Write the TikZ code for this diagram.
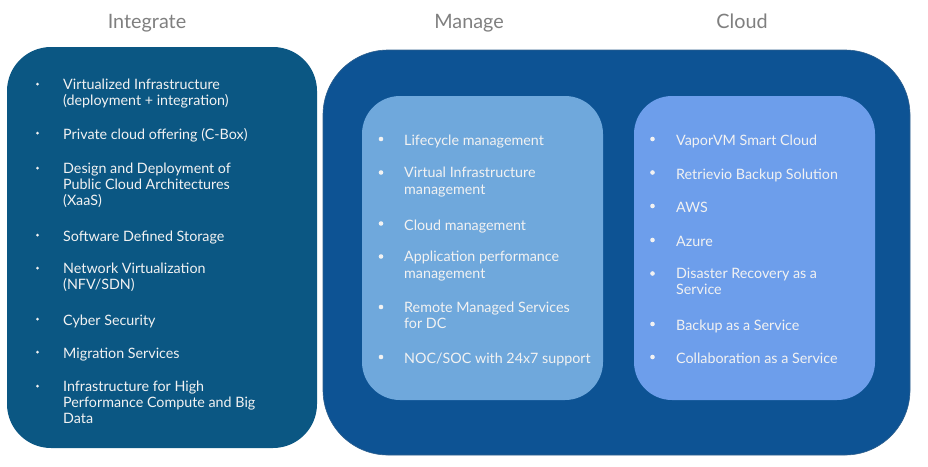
\documentclass[tikz,border=0pt]{standalone}
\usepackage{fontspec}
\setmainfont{Lato}
\definecolor{leftbox}{HTML}{0B5783}
\definecolor{bigbox}{HTML}{0D5394}
\definecolor{managebox}{HTML}{6FA8DC}
\definecolor{cloudbox}{HTML}{6D9EEB}
\definecolor{titlegray}{HTML}{7F7F7F}
\definecolor{itemtext}{HTML}{F2F2F2}
\newcommand{\itemstrut}{\rule{0pt}{12pt}}
\tikzset{
  title/.style={text=titlegray, font=\fontsize{19.8}{23}\selectfont, anchor=base},
  item/.style={text=itemtext, font=\fontsize{14.3}{16.3}\selectfont, anchor=north west, align=left, inner sep=0pt, yshift=10.5pt, execute at begin node=\itemstrut},
}
\begin{document}
\begin{tikzpicture}[x=1pt,y=-1pt]
\useasboundingbox (0,0) rectangle (928,466);
% titles
\node[title] (tInt) at (147,28.5) {Integrate};
\node[title] (tMan) at (469,28.5) {Manage};
\node[title] (tCld) at (742,28.5) {Cloud};
% boxes
\fill[leftbox, rounded corners=44pt] (7,47) rectangle (317,448);
\filldraw[fill=bigbox, draw=bigbox!70!gray, line width=0.6pt, rounded corners=65pt] (323,50) rectangle (910,455);
\fill[managebox, rounded corners=38pt] (362,96) rectangle (603,400);
\fill[cloudbox, rounded corners=38pt] (634,96) rectangle (875,400);
% left items
\foreach \y in {84,133,168,235,268,319,352,386} \fill[itemtext] (37.5,\y) circle (1.5);
\node[item] (i1) at (63,89) {Virtualized Infrastructure\\(deployment + integration)};
\node[item] (i2) at (63,138) {Private cloud offering (C-Box)};
\node[item] (i3) at (63,173) {Design and Deployment of\\Public Cloud Architectures\\(XaaS)};
\node[item] (i4) at (63,240) {Software Defined Storage};
\node[item] (i5) at (63,273) {Network Virtualization\\(NFV/SDN)};
\node[item] (i6) at (63,324) {Cyber Security};
\node[item] (i7) at (63,357) {Migration Services};
\node[item] (i8) at (63,391) {Infrastructure for High\\Performance Compute and Big\\Data};
% manage items
\foreach \y in {139,172.5,223.5,256.5,307,357} \fill[itemtext] (381,\y) circle (2.3);
\node[item] (m1) at (404,144) {Lifecycle management};
\node[item] (m2) at (404,177.5) {Virtual Infrastructure\\management};
\node[item] (m3) at (404,228.5) {Cloud management};
\node[item] (m4) at (404,261.5) {Application performance\\management};
\node[item] (m5) at (404,312) {Remote Managed Services\\for DC};
\node[item] (m6) at (404,362) {NOC/SOC with 24x7 support};
% cloud items
\foreach \y in {139,172.5,206,240,273.5,324,357} \fill[itemtext] (652.5,\y) circle (2.3);
\node[item] (c1) at (676,144) {VaporVM Smart Cloud};
\node[item] (c2) at (676,177.5) {Retrievio Backup Solution};
\node[item] (c3) at (676,211) {AWS};
\node[item] (c4) at (676,245) {Azure};
\node[item] (c5) at (676,278.5) {Disaster Recovery as a\\Service};
\node[item] (c6) at (676,329) {Backup as a Service};
\node[item] (c7) at (676,362) {Collaboration as a Service};
\end{tikzpicture}
\end{document}
